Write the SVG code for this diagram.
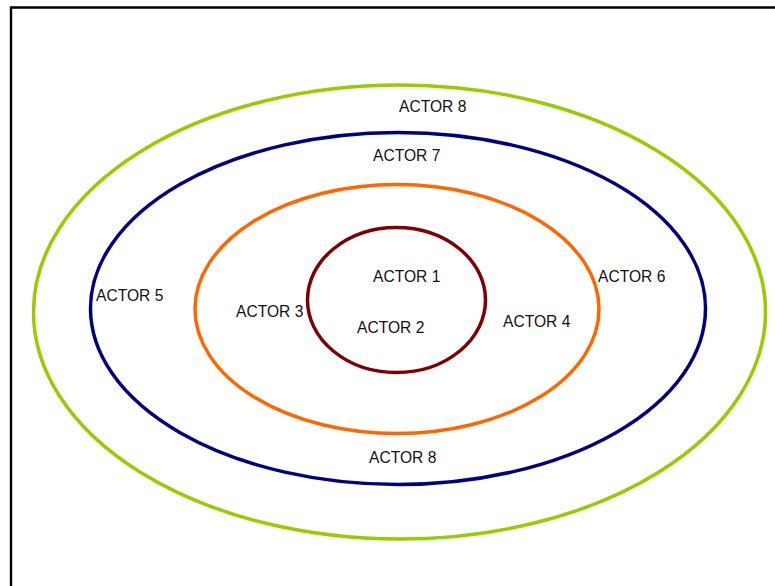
<svg xmlns="http://www.w3.org/2000/svg" width="775" height="586" viewBox="0 0 775 586">
  <style>
    .ring { fill: none; stroke-width: 3.5; }
    .label { font-family: "Liberation Sans", Arial, sans-serif; font-size: 15.6px; fill: #111111; }
  </style>
  <rect x="0" y="0" width="775" height="586" fill="#ffffff"/>
  <!-- frame -->
  <path d="M11 590 V7.5 H780" fill="none" stroke="#000000" stroke-width="2.4"/>

  <g id="ring-outer">
    <ellipse class="ring" cx="399.5" cy="312" rx="366" ry="227" stroke="#99cc00"/>
  </g>
  <g id="ring-blue">
    <ellipse class="ring" cx="398" cy="308.5" rx="307.5" ry="176" stroke="#000080"/>
  </g>
  <g id="ring-orange">
    <ellipse class="ring" cx="397" cy="309" rx="202" ry="124.5" stroke="#ff6600"/>
  </g>
  <g id="ring-core">
    <ellipse class="ring" cx="396.5" cy="300" rx="89" ry="72.5" stroke="#800000"/>
  </g>

  <g id="actor-1"><text class="label" x="373" y="282">ACTOR 1</text></g>
  <g id="actor-2"><text class="label" x="357" y="333">ACTOR 2</text></g>
  <g id="actor-3"><text class="label" x="236" y="317">ACTOR 3</text></g>
  <g id="actor-4"><text class="label" x="503" y="327">ACTOR 4</text></g>
  <g id="actor-5"><text class="label" x="96" y="301">ACTOR 5</text></g>
  <g id="actor-6"><text class="label" x="598" y="282">ACTOR 6</text></g>
  <g id="actor-7"><text class="label" x="373" y="161">ACTOR 7</text></g>
  <g id="actor-8-top"><text class="label" x="399" y="112">ACTOR 8</text></g>
  <g id="actor-8-bottom"><text class="label" x="369" y="463">ACTOR 8</text></g>
  <g id="connectors"></g>
</svg>
